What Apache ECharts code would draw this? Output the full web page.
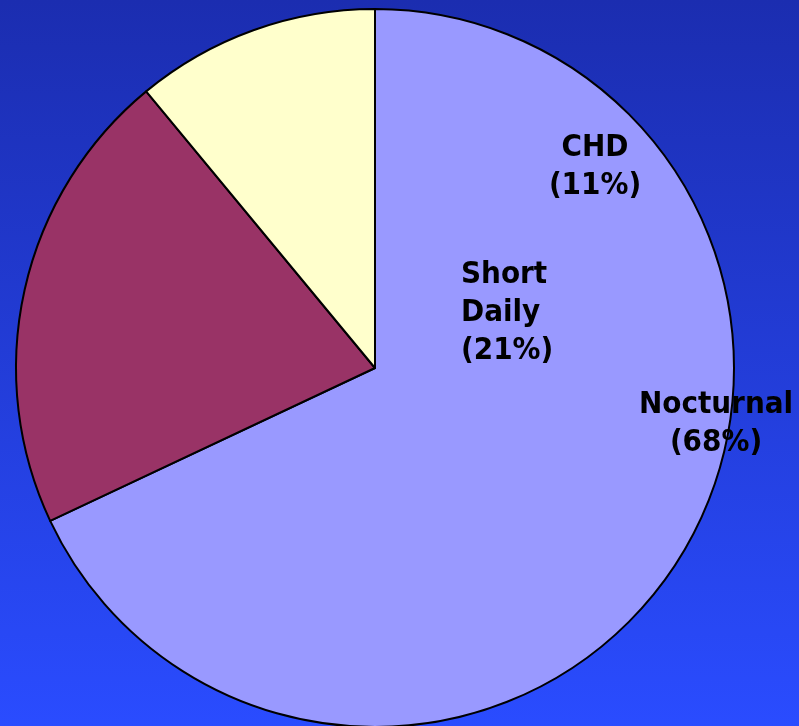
<!DOCTYPE html>
<html>
<head>
<meta charset="utf-8">
<script src="https://cdn.jsdelivr.net/npm/echarts@6/dist/echarts.min.js"></script>
<style>
	* { margin: 0; padding: 0; box-sizing: border-box; }
	html, body { width: 799px; height: 726px; overflow: hidden; }
	#pieChart { width: 799px; height: 726px; }
</style>
</head>
<body>
<div id="pieChart"></div>
<script>
	// 数据
	var categories = ['Nocturnal', 'Short\nDaily', 'CHD'];
	var shares = [68, 21, 11];
	var colors = ['#9999ff', '#993366', '#ffffcc'];

	// label spots (x, y, align) - placed like the original slide
	var labelSpots = [
		{ x: 716, y: 424, align: 'center' },
		{ x: 461, y: 313, align: 'left' },
		{ x: 595, y: 167, align: 'center' }
	];

	var pieData = [];
	for (var i = 0; i < categories.length; i++) {
		pieData.push({
			name: categories[i],
			value: shares[i],
			itemStyle: { color: colors[i] }
		});
	}

	var pieChart = echarts.init(document.getElementById('pieChart'));
	var options = {
		animation: false,
		backgroundColor: new echarts.graphic.LinearGradient(0, 0, 0, 1, [
			{ offset: 0, color: '#1b2db0' },
			{ offset: 1, color: '#2a4cff' }
		]),
		series: [{
			type: 'pie',
			center: [375, 368],
			radius: 359,
			startAngle: 90,
			clockwise: true,
			avoidLabelOverlap: false,
			silent: true,
			data: pieData,
			itemStyle: {
				borderColor: '#000',
				borderWidth: 2
			},
			labelLine: { show: false },
			label: {
				show: true,
				position: 'inside',
				formatter: function (p) {
					return p.name + '\n(' + p.value + '%)';
				},
				color: '#000',
				fontFamily: '"DejaVu Sans Condensed", "DejaVu Sans"',
				fontWeight: 'bold',
				fontSize: 31,
				lineHeight: 38
			},
			labelLayout: function (params) {
				var s = labelSpots[params.dataIndex];
				return {
					x: s.x,
					y: s.y,
					align: s.align,
					verticalAlign: 'middle'
				};
			}
		}]
	};
	pieChart.setOption(options);
</script>
</body>
</html>
